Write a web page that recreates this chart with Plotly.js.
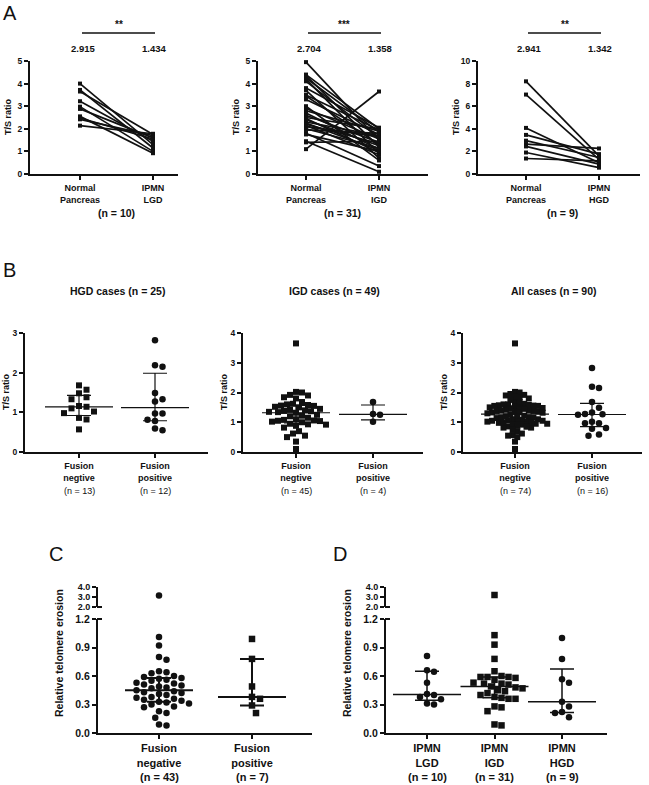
<!DOCTYPE html>
<html>
<head>
<meta charset="utf-8">
<script src="https://cdn.plot.ly/plotly-3.0.1.min.js"></script>
<style>html,body{margin:0;padding:0;background:#fff}#fig{width:649px;height:785px}</style>
</head>
<body>
<div id="fig"></div>
<script>
// ---- panel A: paired T/S ratios (normal pancreas -> IPMN) ----
const lgdNormal=[4.0,3.72,3.65,3.22,2.98,2.88,2.55,2.48,2.42,2.14];
const lgdIpmn  =[1.3,1.15,1.75,1.45,1.0,1.6,0.92,1.55,1.7,1.78];
const igdNormal=[4.95,4.4,4.35,4.25,4.2,4.1,3.8,3.7,3.5,3.45,3.3,3.0,2.9,2.8,2.7,2.6,2.5,2.45,2.4,2.3,2.25,2.2,2.15,2.1,2.0,1.95,1.8,1.75,1.45,1.4,1.1];
const igdIpmn  =[1.5,2.0,1.2,1.85,0.9,1.6,2.05,0.7,1.95,1.3,1.75,0.6,1.55,1.9,1.1,1.4,2.0,0.95,1.25,1.7,1.05,1.35,0.85,1.65,1.15,1.8,0.35,1.0,0.1,1.45,3.65];
const hgdNormal=[8.2,7.03,4.08,3.46,2.95,2.65,2.44,1.9,1.37];
const hgdIpmn  =[1.6,1.3,1.0,1.76,1.46,2.26,0.87,0.56,1.16];
const aMeans=[['2.915','1.434'],['2.704','1.358'],['2.941','1.342']];
const aStars=['**','***','**'];
const aN=['(n = 10)','(n = 31)','(n = 9)'];
const aCats=[['Normal<br>Pancreas','IPMN<br>LGD'],['Normal<br>Pancreas','IPMN<br>IGD'],['Normal<br>Pancreas','IPMN<br>HGD']];

// ---- panel B: T/S ratio by fusion status ----
const hgdFusNeg=[1.68,1.57,1.48,1.38,1.33,1.16,1.14,1.10,1.02,0.98,0.86,0.82,0.57];
const hgdFusPos=[2.82,2.19,2.15,1.49,1.33,1.27,0.97,0.97,0.81,0.78,0.59,0.55];
const igdFusNeg=[3.65,2.02,2.0,1.92,1.9,1.84,1.8,1.68,1.62,1.6,1.58,1.56,1.55,1.52,1.5,1.45,1.42,1.4,1.38,1.37,1.35,1.34,1.32,1.25,1.22,1.2,1.15,1.1,1.08,1.06,1.05,1.04,1.02,1.0,0.95,0.93,0.92,0.88,0.82,0.7,0.62,0.55,0.5,0.35,0.1];
const igdFusPos=[1.68,1.28,1.25,1.02];
const lgdFusNeg=[1.95,1.85,1.75,1.6,1.55,1.5,1.45,1.4,1.3,1.2,1.15,1.05,1.0,0.95,0.85,0.75];
const allFusNeg=[...hgdFusNeg,...igdFusNeg,...lgdFusNeg];
const allFusPos=[...hgdFusPos,...igdFusPos];
const bTitles=['HGD cases (n = 25)','IGD cases (n = 49)','All cases (n = 90)'];
const bCats=['Fusion<br>negtive','Fusion<br>positive'];
const bN=[['(n = 13)','(n = 12)'],['(n = 45)','(n = 4)'],['(n = 74)','(n = 16)']];

// ---- panels C / D: relative telomere erosion ----
const cNeg=[3.15,1.01,0.92,0.80,0.77,0.65,0.64,0.63,0.60,0.59,0.58,0.57,0.56,0.55,0.53,0.52,0.51,0.50,0.49,0.48,0.47,0.45,0.44,0.43,0.42,0.41,0.40,0.38,0.37,0.36,0.35,0.34,0.33,0.32,0.31,0.30,0.28,0.27,0.23,0.21,0.16,0.09,0.08];
const cPos=[0.99,0.78,0.49,0.38,0.36,0.29,0.21];
const dLgd=[0.81,0.66,0.645,0.53,0.41,0.40,0.38,0.355,0.31,0.30];
const dIgd=[3.2,1.03,0.93,0.78,0.65,0.60,0.59,0.59,0.59,0.58,0.56,0.53,0.52,0.52,0.51,0.49,0.48,0.47,0.45,0.44,0.42,0.40,0.38,0.37,0.36,0.36,0.28,0.27,0.23,0.09,0.08];
const dHgd=[1.0,0.78,0.565,0.53,0.33,0.28,0.22,0.21,0.165];
const cCats=['Fusion<br>negative','Fusion<br>positive'];
const cN=['(n = 43)','(n = 7)'];
const dCats=['IPMN<br>LGD','IPMN<br>IGD','IPMN<br>HGD'];
const dN=['(n = 10)','(n = 31)','(n = 9)'];
const lowTicks=['0.0','0.3','0.6','0.9','1.2'];
const highTicks=['2.0','3.0','4.0'];

const W=649,H=785,INK='#111';
const FONT='"Liberation Sans", Arial, Helvetica, sans-serif';
const fx=p=>p/W, fy=p=>1-p/H;
const traces=[],annotations=[],shapes=[];
const layout={width:W,height:H,margin:{l:0,r:0,t:0,b:0},showlegend:false,
  paper_bgcolor:'#fff',plot_bgcolor:'rgba(0,0,0,0)',font:{family:FONT,color:INK},
  annotations,shapes};

function xAxis(g,anchor,cats,fs){
  return {domain:[fx(g.x0),fx(g.x1)],range:[(g.x0-g.c0)/g.unit,(g.x1-g.c0)/g.unit],anchor,
    tickmode:'array',tickvals:cats.map((c,i)=>i),ticktext:cats,
    showline:true,linewidth:2,linecolor:INK,ticks:'outside',ticklen:4,tickwidth:2,tickcolor:INK,
    showgrid:false,zeroline:false,tickfont:{family:FONT,size:fs,weight:'bold',color:INK}};
}
function yAxis(top,bot,range,tk,anchor,fs){
  return Object.assign({domain:[fy(bot),fy(top)],range,anchor,
    showline:true,linewidth:2,linecolor:INK,ticks:'outside',ticklen:4,tickwidth:2,tickcolor:INK,
    showgrid:false,zeroline:false,tickfont:{family:FONT,size:fs,weight:'bold',color:INK}},tk);
}
function txt(x,y,text,size,weight,extra){
  annotations.push(Object.assign({xref:'paper',yref:'paper',x:fx(x),y:fy(y),text,showarrow:false,
    xanchor:'center',yanchor:'middle',font:{family:FONT,size,color:INK,weight:weight||'normal'}},extra||{}));
}
function hline(x0,x1,y,w){
  shapes.push({type:'line',xref:'paper',yref:'paper',x0:fx(x0),x1:fx(x1),y0:fy(y),y1:fy(y),line:{color:INK,width:w}});
}

// GraphPad-style percentile ((n+1)p rank)
function quant(s,p){
  const h=(s.length+1)*p,lo=Math.floor(h);
  if(lo<1) return s[0];
  if(lo>=s.length) return s[s.length-1];
  return s[lo-1]+(h-lo)*(s[lo]-s[lo-1]);
}
// simple beeswarm, offsets in px
function swarm(vals,ppuY,d){
  const order=vals.map((v,i)=>i).sort((a,b)=>vals[b]-vals[a]);
  const placed=[],off=vals.map(()=>0);
  order.forEach(i=>{
    const y=vals[i]*ppuY;
    for(let k=0;k<200;k++){
      const x=(k===0?0:(k%2?1:-1)*Math.ceil(k/2))*d*0.5;
      if(placed.every(p=>Math.hypot(p.x-x,p.y-y)>=d)){placed.push({x,y});off[i]=x;break;}
    }
  });
  return off;
}

function paired(left,right,xa,ya){
  left.forEach((v,i)=>traces.push({type:'scatter',mode:'lines+markers',x:[0,1],y:[v,right[i]],
    xaxis:xa,yaxis:ya,line:{color:INK,width:1.7},marker:{symbol:'square',size:4,color:INK},
    cliponaxis:false,hoverinfo:'skip'}));
}

function dots(vals,cat,g,o){
  const cut=o.cut;
  const low=vals.filter(v=>cut==null||v<=cut), high=cut==null?[]:vals.filter(v=>v>cut);
  const off=swarm(low,o.ppuY,o.d);
  traces.push({type:'scatter',mode:'markers',x:low.map((v,i)=>cat+off[i]/g.unit),y:low,
    xaxis:o.xa,yaxis:o.ya,marker:{symbol:o.sym,size:o.size,color:INK},cliponaxis:false,hoverinfo:'skip'});
  if(high.length) traces.push({type:'scatter',mode:'markers',x:high.map(()=>cat),y:high,
    xaxis:o.xa,yaxis:o.yaUp,marker:{symbol:o.sym,size:o.size,color:INK},cliponaxis:false,hoverinfo:'skip'});
  const s=[...vals].sort((a,b)=>a-b);
  const med=quant(s,.5),q1=quant(s,.25),q3=quant(s,.75);
  const hw=34/g.unit;
  traces.push({type:'scatter',mode:'lines',x:[cat-hw,cat+hw],y:[med,med],xaxis:o.xa,yaxis:o.ya,
    line:{color:INK,width:o.lw},hoverinfo:'skip'});
  traces.push({type:'scatter',mode:'markers',x:[cat],y:[med],xaxis:o.xa,yaxis:o.ya,
    marker:{size:1,color:'rgba(0,0,0,0)'},hoverinfo:'skip',
    error_y:{type:'data',symmetric:false,array:[q3-med],arrayminus:[med-q1],width:12,thickness:o.lw,color:INK}});
}

// ---------- Panel A ----------
const geoA=[{x0:30,x1:178,c0:80,unit:73,ymax:5,dtick:1},
            {x0:258,x1:428,c0:306,unit:73,ymax:5,dtick:1},
            {x0:478,x1:640,c0:526,unit:73,ymax:10,dtick:2}];
const aData=[[lgdNormal,lgdIpmn],[igdNormal,igdIpmn],[hgdNormal,hgdIpmn]];
geoA.forEach((g,i)=>{
  const k=i+1, sfx=k===1?'':k;
  layout['xaxis'+sfx]=xAxis(g,'y'+sfx,aCats[i],9);
  layout['yaxis'+sfx]=yAxis(61,174,[0,g.ymax],{dtick:g.dtick,tick0:0},'x'+sfx,8.5);
  paired(aData[i][0],aData[i][1],'x'+sfx,'y'+sfx);
  const c1=g.c0+g.unit;
  hline(g.c0+2,c1+2,33,1.5);
  txt((g.c0+c1)/2+2,25,aStars[i],10,'bold');
  txt(g.c0+3,48.5,aMeans[i][0],9.5,'bold');
  txt(c1+1,48.5,aMeans[i][1],9.5,'bold');
  txt((g.c0+c1)/2,213,aN[i],10.5,'bold');
  txt(g.x0-22,117,'T/S ratio',9,'bold',{textangle:-90});
});
txt(9.5,13,'A',20);

// ---------- Panel B ----------
const geoB=[{x0:25,x1:208,c0:79,unit:76,ymax:3},
            {x0:243,x1:423,c0:296,unit:77,ymax:4},
            {x0:463,x1:642,c0:515,unit:77,ymax:4}];
const bData=[[hgdFusNeg,hgdFusPos],[igdFusNeg,igdFusPos],[allFusNeg,allFusPos]];
const bSpread=[[7.5,7.5],[6,7],[4.6,7]];
geoB.forEach((g,i)=>{
  const k=i+4, ppuY=(452-333)/g.ymax;
  layout['xaxis'+k]=xAxis(g,'y'+k,bCats,9);
  layout['yaxis'+k]=yAxis(333,452,[0,g.ymax],{dtick:1,tick0:0},'x'+k,8.5);
  dots(bData[i][0],0,g,{xa:'x'+k,ya:'y'+k,ppuY,sym:'square',size:6,d:bSpread[i][0],lw:1.2});
  dots(bData[i][1],1,g,{xa:'x'+k,ya:'y'+k,ppuY,sym:'circle',size:6.5,d:bSpread[i][1],lw:1.2});
  const c1=g.c0+g.unit;
  txt((g.c0+c1)/2,291,bTitles[i],10.5,'bold');
  txt(g.c0,491,bN[i][0],9);
  txt(c1,491,bN[i][1],9);
  txt(g.x0-19,392,'T/S ratio',9,'bold',{textangle:-90});
});
txt(9,270,'B',20);

// ---------- Panels C and D (broken y axis) ----------
const lowVals=lowTicks.map(Number), highVals=highTicks.map(Number);
const geoC={x0:98,x1:312,c0:159,unit:93};
const geoD={x0:386,x1:607,c0:427,unit:67.5};
[[geoC,7,9,cCats],[geoD,8,10,dCats]].forEach(([g,k,ku,cats])=>{
  layout['xaxis'+k]=xAxis(g,'y'+k,cats,11);
  layout['yaxis'+k]=yAxis(619,733,[0,1.2],{tickmode:'array',tickvals:lowVals,ticktext:lowTicks},'x'+k,10.5);
  layout['yaxis'+ku]=yAxis(587,607,[2,4],{tickmode:'array',tickvals:highVals,ticktext:highTicks},'x'+k,9);
  hline(g.x0-1,g.x0+4,607,2);
  hline(g.x0-1,g.x0+4,619,2);
  txt(g.x0-39,653,'Relative telomere erosion',10.5,'bold',{textangle:-90});
});
const ppuCD=(733-619)/1.2;
dots(cNeg,0,geoC,{xa:'x7',ya:'y7',yaUp:'y9',cut:1.2,ppuY:ppuCD,sym:'circle',size:6.5,d:7.5,lw:2});
dots(cPos,1,geoC,{xa:'x7',ya:'y7',yaUp:'y9',cut:1.2,ppuY:ppuCD,sym:'square',size:6.5,d:8,lw:2});
[[dLgd,'circle'],[dIgd,'square'],[dHgd,'circle']].forEach(([v,sym],i)=>
  dots(v,i,geoD,{xa:'x8',ya:'y8',yaUp:'y10',cut:1.2,ppuY:ppuCD,sym,size:6.5,d:7,lw:1.5}));
cN.forEach((t,i)=>txt(geoC.c0+i*geoC.unit,777,t,11,'bold'));
dN.forEach((t,i)=>txt(geoD.c0+i*geoD.unit,777,t,11,'bold'));
txt(55.5,554,'C',20);
txt(340,554,'D',20);

Plotly.newPlot('fig',traces,layout,{staticPlot:true,displayModeBar:false});
</script>
</body>
</html>
